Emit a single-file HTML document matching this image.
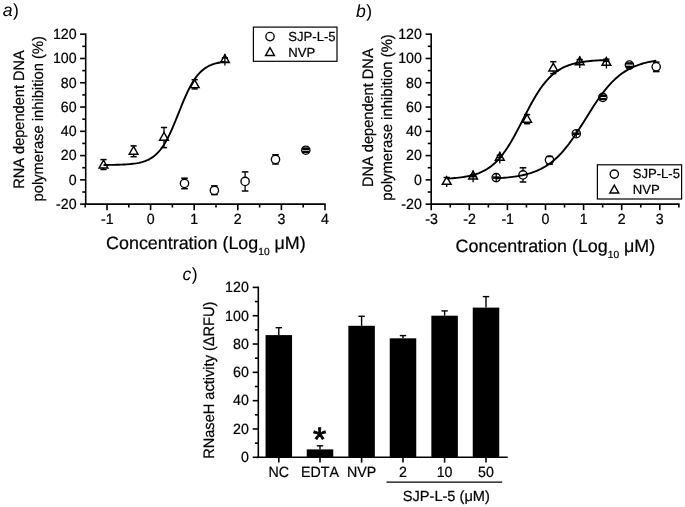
<!DOCTYPE html>
<html><head><meta charset="utf-8"><title>Figure</title>
<style>html,body{margin:0;padding:0;background:#fff}svg{display:block}text{font-family:"Liberation Sans",Arial,sans-serif;fill:#000;stroke:#000;stroke-width:0.22px;font-kerning:none;text-rendering:geometricPrecision}</style>
</head><body>
<svg width="685" height="507" viewBox="0 0 685 507">
<rect width="685" height="507" fill="#fff"/>
<line x1="85.70" y1="33.40" x2="85.70" y2="204.95" stroke="#000" stroke-width="1.6" stroke-linecap="butt"/>
<line x1="80.10" y1="204.15" x2="85.70" y2="204.15" stroke="#000" stroke-width="1.6" stroke-linecap="butt"/>
<text transform="translate(76.60,208.95) scale(0.96,1)" font-size="14.8" text-anchor="end">-20</text>
<line x1="80.10" y1="179.87" x2="85.70" y2="179.87" stroke="#000" stroke-width="1.6" stroke-linecap="butt"/>
<text transform="translate(76.60,184.67) scale(0.96,1)" font-size="14.8" text-anchor="end">0</text>
<line x1="80.10" y1="155.59" x2="85.70" y2="155.59" stroke="#000" stroke-width="1.6" stroke-linecap="butt"/>
<text transform="translate(76.60,160.39) scale(0.96,1)" font-size="14.8" text-anchor="end">20</text>
<line x1="80.10" y1="131.31" x2="85.70" y2="131.31" stroke="#000" stroke-width="1.6" stroke-linecap="butt"/>
<text transform="translate(76.60,136.11) scale(0.96,1)" font-size="14.8" text-anchor="end">40</text>
<line x1="80.10" y1="107.04" x2="85.70" y2="107.04" stroke="#000" stroke-width="1.6" stroke-linecap="butt"/>
<text transform="translate(76.60,111.84) scale(0.96,1)" font-size="14.8" text-anchor="end">60</text>
<line x1="80.10" y1="82.76" x2="85.70" y2="82.76" stroke="#000" stroke-width="1.6" stroke-linecap="butt"/>
<text transform="translate(76.60,87.56) scale(0.96,1)" font-size="14.8" text-anchor="end">80</text>
<line x1="80.10" y1="58.48" x2="85.70" y2="58.48" stroke="#000" stroke-width="1.6" stroke-linecap="butt"/>
<text transform="translate(76.60,63.28) scale(0.96,1)" font-size="14.8" text-anchor="end">100</text>
<line x1="80.10" y1="34.20" x2="85.70" y2="34.20" stroke="#000" stroke-width="1.6" stroke-linecap="butt"/>
<text transform="translate(76.60,39.00) scale(0.96,1)" font-size="14.8" text-anchor="end">120</text>
<line x1="82.30" y1="192.01" x2="85.70" y2="192.01" stroke="#000" stroke-width="1.6" stroke-linecap="butt"/>
<line x1="82.30" y1="167.73" x2="85.70" y2="167.73" stroke="#000" stroke-width="1.6" stroke-linecap="butt"/>
<line x1="82.30" y1="143.45" x2="85.70" y2="143.45" stroke="#000" stroke-width="1.6" stroke-linecap="butt"/>
<line x1="82.30" y1="119.18" x2="85.70" y2="119.18" stroke="#000" stroke-width="1.6" stroke-linecap="butt"/>
<line x1="82.30" y1="94.90" x2="85.70" y2="94.90" stroke="#000" stroke-width="1.6" stroke-linecap="butt"/>
<line x1="82.30" y1="70.62" x2="85.70" y2="70.62" stroke="#000" stroke-width="1.6" stroke-linecap="butt"/>
<line x1="82.30" y1="46.34" x2="85.70" y2="46.34" stroke="#000" stroke-width="1.6" stroke-linecap="butt"/>
<line x1="84.90" y1="204.15" x2="325.80" y2="204.15" stroke="#000" stroke-width="1.6" stroke-linecap="butt"/>
<line x1="107.00" y1="204.15" x2="107.00" y2="210.15" stroke="#000" stroke-width="1.6" stroke-linecap="butt"/>
<text transform="translate(107.30,223.90) scale(0.96,1)" font-size="14.8" text-anchor="middle">-1</text>
<line x1="150.60" y1="204.15" x2="150.60" y2="210.15" stroke="#000" stroke-width="1.6" stroke-linecap="butt"/>
<text transform="translate(150.60,223.90) scale(0.96,1)" font-size="14.8" text-anchor="middle">0</text>
<line x1="194.20" y1="204.15" x2="194.20" y2="210.15" stroke="#000" stroke-width="1.6" stroke-linecap="butt"/>
<text transform="translate(194.20,223.90) scale(0.96,1)" font-size="14.8" text-anchor="middle">1</text>
<line x1="237.80" y1="204.15" x2="237.80" y2="210.15" stroke="#000" stroke-width="1.6" stroke-linecap="butt"/>
<text transform="translate(237.80,223.90) scale(0.96,1)" font-size="14.8" text-anchor="middle">2</text>
<line x1="281.40" y1="204.15" x2="281.40" y2="210.15" stroke="#000" stroke-width="1.6" stroke-linecap="butt"/>
<text transform="translate(281.40,223.90) scale(0.96,1)" font-size="14.8" text-anchor="middle">3</text>
<line x1="325.00" y1="204.15" x2="325.00" y2="210.15" stroke="#000" stroke-width="1.6" stroke-linecap="butt"/>
<text transform="translate(325.00,223.90) scale(0.96,1)" font-size="14.8" text-anchor="middle">4</text>
<line x1="85.20" y1="204.15" x2="85.20" y2="207.55" stroke="#000" stroke-width="1.6" stroke-linecap="butt"/>
<line x1="128.80" y1="204.15" x2="128.80" y2="207.55" stroke="#000" stroke-width="1.6" stroke-linecap="butt"/>
<line x1="172.40" y1="204.15" x2="172.40" y2="207.55" stroke="#000" stroke-width="1.6" stroke-linecap="butt"/>
<line x1="216.00" y1="204.15" x2="216.00" y2="207.55" stroke="#000" stroke-width="1.6" stroke-linecap="butt"/>
<line x1="259.60" y1="204.15" x2="259.60" y2="207.55" stroke="#000" stroke-width="1.6" stroke-linecap="butt"/>
<line x1="303.20" y1="204.15" x2="303.20" y2="207.55" stroke="#000" stroke-width="1.6" stroke-linecap="butt"/>
<text x="0.00" y="0.00" font-size="15.2" text-anchor="middle" transform="translate(24.0,119.5) rotate(-90) scale(0.9605,1)">RNA dependent DNA</text>
<text x="0.00" y="0.00" font-size="15.2" text-anchor="middle" transform="translate(42.8,118.8) rotate(-90) scale(0.970,1)">polymerase inhibition (%)</text>
<text x="205.9" y="249.3" font-size="17.9" text-anchor="middle">Concentration (Log<tspan font-size="10.2" dy="6">10</tspan><tspan dy="-6"> μM)</tspan></text>
<text x="2.7" y="16.1" font-size="17.6" style="stroke-width:0"><tspan font-style="italic">a</tspan><tspan dx="0.6">)</tspan></text>
<line x1="103.50" y1="159.60" x2="103.50" y2="169.50" stroke="#000" stroke-width="1.3" stroke-linecap="butt"/>
<path d="M99.10,167.90 L107.90,167.90 L103.50,160.20 Z" fill="#fff" stroke="#000" stroke-width="1.45" stroke-linejoin="miter"/>
<line x1="100.40" y1="159.60" x2="106.60" y2="159.60" stroke="#000" stroke-width="1.5" stroke-linecap="butt"/>
<line x1="100.40" y1="169.50" x2="106.60" y2="169.50" stroke="#000" stroke-width="1.5" stroke-linecap="butt"/>
<line x1="133.60" y1="145.90" x2="133.60" y2="156.70" stroke="#000" stroke-width="1.3" stroke-linecap="butt"/>
<path d="M129.20,154.20 L138.00,154.20 L133.60,146.50 Z" fill="#fff" stroke="#000" stroke-width="1.45" stroke-linejoin="miter"/>
<line x1="130.50" y1="145.90" x2="136.70" y2="145.90" stroke="#000" stroke-width="1.5" stroke-linecap="butt"/>
<line x1="130.50" y1="156.70" x2="136.70" y2="156.70" stroke="#000" stroke-width="1.5" stroke-linecap="butt"/>
<line x1="164.00" y1="127.50" x2="164.00" y2="147.60" stroke="#000" stroke-width="1.3" stroke-linecap="butt"/>
<path d="M159.60,140.20 L168.40,140.20 L164.00,132.50 Z" fill="#fff" stroke="#000" stroke-width="1.45" stroke-linejoin="miter"/>
<line x1="160.90" y1="127.50" x2="167.10" y2="127.50" stroke="#000" stroke-width="1.5" stroke-linecap="butt"/>
<line x1="160.90" y1="147.60" x2="167.10" y2="147.60" stroke="#000" stroke-width="1.5" stroke-linecap="butt"/>
<line x1="194.70" y1="79.70" x2="194.70" y2="88.90" stroke="#000" stroke-width="1.3" stroke-linecap="butt"/>
<path d="M190.30,87.60 L199.10,87.60 L194.70,79.90 Z" fill="#fff" stroke="#000" stroke-width="1.45" stroke-linejoin="miter"/>
<line x1="191.60" y1="79.70" x2="197.80" y2="79.70" stroke="#000" stroke-width="1.5" stroke-linecap="butt"/>
<line x1="191.60" y1="88.90" x2="197.80" y2="88.90" stroke="#000" stroke-width="1.5" stroke-linecap="butt"/>
<line x1="224.90" y1="57.80" x2="224.90" y2="62.30" stroke="#000" stroke-width="1.3" stroke-linecap="butt"/>
<path d="M220.50,62.40 L229.30,62.40 L224.90,54.70 Z" fill="#fff" stroke="#000" stroke-width="1.45" stroke-linejoin="miter"/>
<line x1="221.80" y1="57.80" x2="228.00" y2="57.80" stroke="#000" stroke-width="1.5" stroke-linecap="butt"/>
<line x1="221.80" y1="62.30" x2="228.00" y2="62.30" stroke="#000" stroke-width="1.5" stroke-linecap="butt"/>
<line x1="224.90" y1="53.90" x2="224.90" y2="65.60" stroke="#000" stroke-width="1.3" stroke-linecap="butt"/>
<line x1="184.50" y1="178.20" x2="184.50" y2="188.70" stroke="#000" stroke-width="1.3" stroke-linecap="butt"/>
<circle cx="184.50" cy="183.40" r="4.15" fill="#fff" stroke="#000" stroke-width="1.35"/>
<line x1="181.20" y1="178.20" x2="187.80" y2="178.20" stroke="#000" stroke-width="1.5" stroke-linecap="butt"/>
<line x1="181.20" y1="188.70" x2="187.80" y2="188.70" stroke="#000" stroke-width="1.5" stroke-linecap="butt"/>
<line x1="214.40" y1="185.90" x2="214.40" y2="194.60" stroke="#000" stroke-width="1.3" stroke-linecap="butt"/>
<circle cx="214.40" cy="190.40" r="4.15" fill="#fff" stroke="#000" stroke-width="1.35"/>
<line x1="211.10" y1="185.90" x2="217.70" y2="185.90" stroke="#000" stroke-width="1.5" stroke-linecap="butt"/>
<line x1="211.10" y1="194.60" x2="217.70" y2="194.60" stroke="#000" stroke-width="1.5" stroke-linecap="butt"/>
<line x1="245.10" y1="171.90" x2="245.10" y2="191.00" stroke="#000" stroke-width="1.3" stroke-linecap="butt"/>
<circle cx="245.10" cy="181.40" r="4.15" fill="#fff" stroke="#000" stroke-width="1.35"/>
<line x1="241.80" y1="171.90" x2="248.40" y2="171.90" stroke="#000" stroke-width="1.5" stroke-linecap="butt"/>
<line x1="241.80" y1="191.00" x2="248.40" y2="191.00" stroke="#000" stroke-width="1.5" stroke-linecap="butt"/>
<line x1="275.50" y1="154.80" x2="275.50" y2="164.00" stroke="#000" stroke-width="1.3" stroke-linecap="butt"/>
<circle cx="275.50" cy="159.40" r="4.15" fill="#fff" stroke="#000" stroke-width="1.35"/>
<line x1="272.20" y1="154.80" x2="278.80" y2="154.80" stroke="#000" stroke-width="1.5" stroke-linecap="butt"/>
<line x1="272.20" y1="164.00" x2="278.80" y2="164.00" stroke="#000" stroke-width="1.5" stroke-linecap="butt"/>
<line x1="305.80" y1="149.20" x2="305.80" y2="151.50" stroke="#000" stroke-width="1.3" stroke-linecap="butt"/>
<circle cx="305.80" cy="150.20" r="4.15" fill="#fff" stroke="#000" stroke-width="1.35"/>
<line x1="302.50" y1="149.20" x2="309.10" y2="149.20" stroke="#000" stroke-width="1.5" stroke-linecap="butt"/>
<line x1="302.50" y1="151.50" x2="309.10" y2="151.50" stroke="#000" stroke-width="1.5" stroke-linecap="butt"/>
<line x1="302.50" y1="148.50" x2="309.10" y2="148.50" stroke="#000" stroke-width="2.3" stroke-linecap="butt"/>
<line x1="302.50" y1="152.00" x2="309.10" y2="152.00" stroke="#000" stroke-width="2.3" stroke-linecap="butt"/>
<polyline points="103.50,164.98 105.04,164.97 106.57,164.95 108.11,164.94 109.65,164.92 111.18,164.89 112.72,164.87 114.26,164.84 115.79,164.81 117.33,164.77 118.87,164.72 120.40,164.67 121.94,164.61 123.48,164.54 125.01,164.45 126.55,164.36 128.09,164.25 129.62,164.12 131.16,163.98 132.70,163.81 134.23,163.61 135.77,163.39 137.31,163.13 138.84,162.83 140.38,162.48 141.92,162.08 143.45,161.63 144.99,161.10 146.53,160.50 148.06,159.82 149.60,159.03 151.14,158.14 152.67,157.12 154.21,155.97 155.75,154.67 157.28,153.21 158.82,151.57 160.36,149.74 161.89,147.71 163.43,145.47 164.97,143.01 166.51,140.34 168.04,137.45 169.58,134.35 171.12,131.05 172.65,127.59 174.19,123.97 175.73,120.24 177.26,116.43 178.80,112.58 180.34,108.74 181.87,104.93 183.41,101.21 184.95,97.61 186.48,94.16 188.02,90.89 189.56,87.81 191.09,84.94 192.63,82.29 194.17,79.86 195.70,77.64 197.24,75.63 198.78,73.82 200.31,72.20 201.85,70.76 203.39,69.47 204.92,68.34 206.46,67.33 208.00,66.45 209.53,65.68 211.07,65.00 212.61,64.41 214.14,63.89 215.68,63.44 217.22,63.05 218.75,62.71 220.29,62.42 221.83,62.16 223.36,61.94 224.90,61.75" fill="none" stroke="#000" stroke-width="1.9" stroke-linejoin="round"/>
<rect x="253.4" y="27.1" width="83.6" height="34.2" fill="#fff" stroke="#000" stroke-width="1.2"/>
<circle cx="270.00" cy="36.60" r="4.15" fill="#fff" stroke="#000" stroke-width="1.35"/>
<path d="M265.60,55.40 L274.40,55.40 L270.00,47.70 Z" fill="#fff" stroke="#000" stroke-width="1.45" stroke-linejoin="miter"/>
<text x="288.30" y="40.80" font-size="13.1" text-anchor="start" >SJP-L-5</text>
<text x="288.30" y="56.80" font-size="13.1" text-anchor="start" >NVP</text>
<line x1="431.20" y1="33.40" x2="431.20" y2="204.95" stroke="#000" stroke-width="1.6" stroke-linecap="butt"/>
<line x1="425.60" y1="204.15" x2="431.20" y2="204.15" stroke="#000" stroke-width="1.6" stroke-linecap="butt"/>
<text transform="translate(421.90,208.95) scale(0.96,1)" font-size="14.8" text-anchor="end">-20</text>
<line x1="425.60" y1="179.87" x2="431.20" y2="179.87" stroke="#000" stroke-width="1.6" stroke-linecap="butt"/>
<text transform="translate(421.90,184.67) scale(0.96,1)" font-size="14.8" text-anchor="end">0</text>
<line x1="425.60" y1="155.59" x2="431.20" y2="155.59" stroke="#000" stroke-width="1.6" stroke-linecap="butt"/>
<text transform="translate(421.90,160.39) scale(0.96,1)" font-size="14.8" text-anchor="end">20</text>
<line x1="425.60" y1="131.31" x2="431.20" y2="131.31" stroke="#000" stroke-width="1.6" stroke-linecap="butt"/>
<text transform="translate(421.90,136.11) scale(0.96,1)" font-size="14.8" text-anchor="end">40</text>
<line x1="425.60" y1="107.04" x2="431.20" y2="107.04" stroke="#000" stroke-width="1.6" stroke-linecap="butt"/>
<text transform="translate(421.90,111.84) scale(0.96,1)" font-size="14.8" text-anchor="end">60</text>
<line x1="425.60" y1="82.76" x2="431.20" y2="82.76" stroke="#000" stroke-width="1.6" stroke-linecap="butt"/>
<text transform="translate(421.90,87.56) scale(0.96,1)" font-size="14.8" text-anchor="end">80</text>
<line x1="425.60" y1="58.48" x2="431.20" y2="58.48" stroke="#000" stroke-width="1.6" stroke-linecap="butt"/>
<text transform="translate(421.90,63.28) scale(0.96,1)" font-size="14.8" text-anchor="end">100</text>
<line x1="425.60" y1="34.20" x2="431.20" y2="34.20" stroke="#000" stroke-width="1.6" stroke-linecap="butt"/>
<text transform="translate(421.90,39.00) scale(0.96,1)" font-size="14.8" text-anchor="end">120</text>
<line x1="427.80" y1="192.01" x2="431.20" y2="192.01" stroke="#000" stroke-width="1.6" stroke-linecap="butt"/>
<line x1="427.80" y1="167.73" x2="431.20" y2="167.73" stroke="#000" stroke-width="1.6" stroke-linecap="butt"/>
<line x1="427.80" y1="143.45" x2="431.20" y2="143.45" stroke="#000" stroke-width="1.6" stroke-linecap="butt"/>
<line x1="427.80" y1="119.18" x2="431.20" y2="119.18" stroke="#000" stroke-width="1.6" stroke-linecap="butt"/>
<line x1="427.80" y1="94.90" x2="431.20" y2="94.90" stroke="#000" stroke-width="1.6" stroke-linecap="butt"/>
<line x1="427.80" y1="70.62" x2="431.20" y2="70.62" stroke="#000" stroke-width="1.6" stroke-linecap="butt"/>
<line x1="427.80" y1="46.34" x2="431.20" y2="46.34" stroke="#000" stroke-width="1.6" stroke-linecap="butt"/>
<line x1="430.40" y1="204.15" x2="679.65" y2="204.15" stroke="#000" stroke-width="1.6" stroke-linecap="butt"/>
<line x1="431.20" y1="204.15" x2="431.20" y2="210.15" stroke="#000" stroke-width="1.6" stroke-linecap="butt"/>
<text transform="translate(431.50,223.90) scale(0.96,1)" font-size="14.8" text-anchor="middle">-3</text>
<line x1="469.30" y1="204.15" x2="469.30" y2="210.15" stroke="#000" stroke-width="1.6" stroke-linecap="butt"/>
<text transform="translate(469.60,223.90) scale(0.96,1)" font-size="14.8" text-anchor="middle">-2</text>
<line x1="507.40" y1="204.15" x2="507.40" y2="210.15" stroke="#000" stroke-width="1.6" stroke-linecap="butt"/>
<text transform="translate(507.70,223.90) scale(0.96,1)" font-size="14.8" text-anchor="middle">-1</text>
<line x1="545.50" y1="204.15" x2="545.50" y2="210.15" stroke="#000" stroke-width="1.6" stroke-linecap="butt"/>
<text transform="translate(545.50,223.90) scale(0.96,1)" font-size="14.8" text-anchor="middle">0</text>
<line x1="583.60" y1="204.15" x2="583.60" y2="210.15" stroke="#000" stroke-width="1.6" stroke-linecap="butt"/>
<text transform="translate(583.60,223.90) scale(0.96,1)" font-size="14.8" text-anchor="middle">1</text>
<line x1="621.70" y1="204.15" x2="621.70" y2="210.15" stroke="#000" stroke-width="1.6" stroke-linecap="butt"/>
<text transform="translate(621.70,223.90) scale(0.96,1)" font-size="14.8" text-anchor="middle">2</text>
<line x1="659.80" y1="204.15" x2="659.80" y2="210.15" stroke="#000" stroke-width="1.6" stroke-linecap="butt"/>
<text transform="translate(659.80,223.90) scale(0.96,1)" font-size="14.8" text-anchor="middle">3</text>
<line x1="450.25" y1="204.15" x2="450.25" y2="207.55" stroke="#000" stroke-width="1.6" stroke-linecap="butt"/>
<line x1="488.35" y1="204.15" x2="488.35" y2="207.55" stroke="#000" stroke-width="1.6" stroke-linecap="butt"/>
<line x1="526.45" y1="204.15" x2="526.45" y2="207.55" stroke="#000" stroke-width="1.6" stroke-linecap="butt"/>
<line x1="564.55" y1="204.15" x2="564.55" y2="207.55" stroke="#000" stroke-width="1.6" stroke-linecap="butt"/>
<line x1="602.65" y1="204.15" x2="602.65" y2="207.55" stroke="#000" stroke-width="1.6" stroke-linecap="butt"/>
<line x1="640.75" y1="204.15" x2="640.75" y2="207.55" stroke="#000" stroke-width="1.6" stroke-linecap="butt"/>
<line x1="678.85" y1="204.15" x2="678.85" y2="207.55" stroke="#000" stroke-width="1.6" stroke-linecap="butt"/>
<text x="0.00" y="0.00" font-size="15.2" text-anchor="middle" transform="translate(372.6,117.7) rotate(-90) scale(0.9605,1)">DNA dependent DNA</text>
<text x="0.00" y="0.00" font-size="15.2" text-anchor="middle" transform="translate(392.2,117.45) rotate(-90) scale(0.9765,1)">polymerase inhibition (%)</text>
<text x="555.4" y="252.4" font-size="17.9" text-anchor="middle">Concentration (Log<tspan font-size="10.2" dy="6">10</tspan><tspan dy="-6"> μM)</tspan></text>
<text x="356.1" y="17.3" font-size="17.6" style="stroke-width:0"><tspan font-style="italic">b</tspan><tspan dx="0.4">)</tspan></text>
<line x1="446.70" y1="177.50" x2="446.70" y2="187.10" stroke="#000" stroke-width="1.3" stroke-linecap="butt"/>
<path d="M442.30,184.30 L451.10,184.30 L446.70,176.60 Z" fill="#fff" stroke="#000" stroke-width="1.45" stroke-linejoin="miter"/>
<line x1="443.60" y1="177.50" x2="449.80" y2="177.50" stroke="#000" stroke-width="1.5" stroke-linecap="butt"/>
<line x1="473.10" y1="175.30" x2="473.10" y2="176.60" stroke="#000" stroke-width="1.3" stroke-linecap="butt"/>
<path d="M468.70,179.00 L477.50,179.00 L473.10,171.30 Z" fill="#fff" stroke="#000" stroke-width="1.45" stroke-linejoin="miter"/>
<line x1="470.00" y1="175.30" x2="476.20" y2="175.30" stroke="#000" stroke-width="1.5" stroke-linecap="butt"/>
<line x1="470.00" y1="176.60" x2="476.20" y2="176.60" stroke="#000" stroke-width="1.5" stroke-linecap="butt"/>
<line x1="473.10" y1="170.50" x2="473.10" y2="182.20" stroke="#000" stroke-width="1.3" stroke-linecap="butt"/>
<line x1="499.80" y1="155.20" x2="499.80" y2="157.40" stroke="#000" stroke-width="1.3" stroke-linecap="butt"/>
<path d="M495.40,160.20 L504.20,160.20 L499.80,152.50 Z" fill="#fff" stroke="#000" stroke-width="1.45" stroke-linejoin="miter"/>
<line x1="496.70" y1="155.20" x2="502.90" y2="155.20" stroke="#000" stroke-width="1.5" stroke-linecap="butt"/>
<line x1="496.70" y1="157.40" x2="502.90" y2="157.40" stroke="#000" stroke-width="1.5" stroke-linecap="butt"/>
<line x1="499.80" y1="151.70" x2="499.80" y2="163.40" stroke="#000" stroke-width="1.3" stroke-linecap="butt"/>
<line x1="527.10" y1="114.60" x2="527.10" y2="123.70" stroke="#000" stroke-width="1.3" stroke-linecap="butt"/>
<path d="M522.70,122.20 L531.50,122.20 L527.10,114.50 Z" fill="#fff" stroke="#000" stroke-width="1.45" stroke-linejoin="miter"/>
<line x1="524.00" y1="114.60" x2="530.20" y2="114.60" stroke="#000" stroke-width="1.5" stroke-linecap="butt"/>
<line x1="524.00" y1="123.70" x2="530.20" y2="123.70" stroke="#000" stroke-width="1.5" stroke-linecap="butt"/>
<line x1="553.30" y1="61.70" x2="553.30" y2="73.60" stroke="#000" stroke-width="1.3" stroke-linecap="butt"/>
<path d="M548.90,71.00 L557.70,71.00 L553.30,63.30 Z" fill="#fff" stroke="#000" stroke-width="1.45" stroke-linejoin="miter"/>
<line x1="550.20" y1="61.70" x2="556.40" y2="61.70" stroke="#000" stroke-width="1.5" stroke-linecap="butt"/>
<line x1="550.20" y1="73.60" x2="556.40" y2="73.60" stroke="#000" stroke-width="1.5" stroke-linecap="butt"/>
<line x1="579.70" y1="59.60" x2="579.70" y2="62.50" stroke="#000" stroke-width="1.3" stroke-linecap="butt"/>
<path d="M575.30,64.70 L584.10,64.70 L579.70,57.00 Z" fill="#fff" stroke="#000" stroke-width="1.45" stroke-linejoin="miter"/>
<line x1="576.60" y1="59.60" x2="582.80" y2="59.60" stroke="#000" stroke-width="1.5" stroke-linecap="butt"/>
<line x1="576.60" y1="62.50" x2="582.80" y2="62.50" stroke="#000" stroke-width="1.5" stroke-linecap="butt"/>
<line x1="579.70" y1="56.20" x2="579.70" y2="67.90" stroke="#000" stroke-width="1.3" stroke-linecap="butt"/>
<line x1="606.40" y1="59.20" x2="606.40" y2="61.20" stroke="#000" stroke-width="1.3" stroke-linecap="butt"/>
<path d="M602.00,65.30 L610.80,65.30 L606.40,57.60 Z" fill="#fff" stroke="#000" stroke-width="1.45" stroke-linejoin="miter"/>
<line x1="603.30" y1="59.20" x2="609.50" y2="59.20" stroke="#000" stroke-width="1.5" stroke-linecap="butt"/>
<line x1="603.30" y1="61.20" x2="609.50" y2="61.20" stroke="#000" stroke-width="1.5" stroke-linecap="butt"/>
<line x1="606.40" y1="56.80" x2="606.40" y2="68.50" stroke="#000" stroke-width="1.3" stroke-linecap="butt"/>
<line x1="496.20" y1="177.10" x2="496.20" y2="178.10" stroke="#000" stroke-width="1.3" stroke-linecap="butt"/>
<circle cx="496.20" cy="177.60" r="4.15" fill="#fff" stroke="#000" stroke-width="1.35"/>
<line x1="492.90" y1="177.10" x2="499.50" y2="177.10" stroke="#000" stroke-width="1.5" stroke-linecap="butt"/>
<line x1="492.90" y1="178.10" x2="499.50" y2="178.10" stroke="#000" stroke-width="1.5" stroke-linecap="butt"/>
<line x1="496.20" y1="174.00" x2="496.20" y2="181.20" stroke="#000" stroke-width="1.3" stroke-linecap="butt"/>
<line x1="523.00" y1="167.80" x2="523.00" y2="182.00" stroke="#000" stroke-width="1.3" stroke-linecap="butt"/>
<circle cx="523.00" cy="174.90" r="4.15" fill="#fff" stroke="#000" stroke-width="1.35"/>
<line x1="519.70" y1="167.80" x2="526.30" y2="167.80" stroke="#000" stroke-width="1.5" stroke-linecap="butt"/>
<line x1="519.70" y1="182.00" x2="526.30" y2="182.00" stroke="#000" stroke-width="1.5" stroke-linecap="butt"/>
<line x1="549.50" y1="156.50" x2="549.50" y2="164.30" stroke="#000" stroke-width="1.3" stroke-linecap="butt"/>
<circle cx="549.50" cy="160.00" r="4.15" fill="#fff" stroke="#000" stroke-width="1.35"/>
<line x1="546.20" y1="156.50" x2="552.80" y2="156.50" stroke="#000" stroke-width="1.5" stroke-linecap="butt"/>
<line x1="546.20" y1="164.30" x2="552.80" y2="164.30" stroke="#000" stroke-width="1.5" stroke-linecap="butt"/>
<line x1="576.30" y1="133.20" x2="576.30" y2="134.20" stroke="#000" stroke-width="1.3" stroke-linecap="butt"/>
<circle cx="576.30" cy="133.70" r="4.15" fill="#fff" stroke="#000" stroke-width="1.35"/>
<line x1="573.00" y1="133.20" x2="579.60" y2="133.20" stroke="#000" stroke-width="1.5" stroke-linecap="butt"/>
<line x1="573.00" y1="134.20" x2="579.60" y2="134.20" stroke="#000" stroke-width="1.5" stroke-linecap="butt"/>
<line x1="576.30" y1="130.10" x2="576.30" y2="137.30" stroke="#000" stroke-width="1.3" stroke-linecap="butt"/>
<line x1="602.80" y1="96.20" x2="602.80" y2="98.60" stroke="#000" stroke-width="1.3" stroke-linecap="butt"/>
<circle cx="602.80" cy="97.40" r="4.15" fill="#fff" stroke="#000" stroke-width="1.35"/>
<line x1="599.50" y1="96.20" x2="606.10" y2="96.20" stroke="#000" stroke-width="1.5" stroke-linecap="butt"/>
<line x1="599.50" y1="98.60" x2="606.10" y2="98.60" stroke="#000" stroke-width="1.5" stroke-linecap="butt"/>
<line x1="629.40" y1="63.60" x2="629.40" y2="66.60" stroke="#000" stroke-width="1.3" stroke-linecap="butt"/>
<circle cx="629.40" cy="65.10" r="4.15" fill="#fff" stroke="#000" stroke-width="1.35"/>
<line x1="626.10" y1="63.60" x2="632.70" y2="63.60" stroke="#000" stroke-width="1.5" stroke-linecap="butt"/>
<line x1="626.10" y1="66.60" x2="632.70" y2="66.60" stroke="#000" stroke-width="1.5" stroke-linecap="butt"/>
<line x1="656.20" y1="62.10" x2="656.20" y2="71.60" stroke="#000" stroke-width="1.3" stroke-linecap="butt"/>
<circle cx="656.20" cy="66.80" r="4.15" fill="#fff" stroke="#000" stroke-width="1.35"/>
<line x1="652.90" y1="62.10" x2="659.50" y2="62.10" stroke="#000" stroke-width="1.5" stroke-linecap="butt"/>
<line x1="652.90" y1="71.60" x2="659.50" y2="71.60" stroke="#000" stroke-width="1.5" stroke-linecap="butt"/>
<line x1="599.50" y1="95.60" x2="606.10" y2="95.60" stroke="#000" stroke-width="2.2" stroke-linecap="butt"/>
<line x1="599.50" y1="99.20" x2="606.10" y2="99.20" stroke="#000" stroke-width="2.2" stroke-linecap="butt"/>
<line x1="626.10" y1="63.30" x2="632.70" y2="63.30" stroke="#000" stroke-width="2.2" stroke-linecap="butt"/>
<line x1="626.10" y1="66.90" x2="632.70" y2="66.90" stroke="#000" stroke-width="2.2" stroke-linecap="butt"/>
<polyline points="446.70,178.57 448.72,178.45 450.74,178.33 452.76,178.18 454.79,178.01 456.81,177.83 458.83,177.61 460.85,177.37 462.87,177.09 464.89,176.77 466.92,176.41 468.94,176.01 470.96,175.55 472.98,175.03 475.00,174.44 477.02,173.77 479.04,173.02 481.07,172.17 483.09,171.22 485.11,170.16 487.13,168.97 489.15,167.64 491.17,166.16 493.19,164.52 495.22,162.71 497.24,160.71 499.26,158.53 501.28,156.15 503.30,153.56 505.32,150.78 507.35,147.80 509.37,144.62 511.39,141.26 513.41,137.74 515.43,134.07 517.45,130.28 519.47,126.39 521.50,122.45 523.52,118.48 525.54,114.52 527.56,110.61 529.58,106.77 531.60,103.03 533.63,99.43 535.65,95.99 537.67,92.72 539.69,89.63 541.71,86.75 543.73,84.06 545.75,81.58 547.78,79.29 549.80,77.20 551.82,75.30 553.84,73.58 555.86,72.02 557.88,70.61 559.91,69.35 561.93,68.22 563.95,67.22 565.97,66.32 567.99,65.52 570.01,64.81 572.03,64.18 574.06,63.63 576.08,63.14 578.10,62.71 580.12,62.32 582.14,61.99 584.16,61.69 586.18,61.43 588.21,61.20 590.23,61.00 592.25,60.82 594.27,60.66 596.29,60.53 598.31,60.41 600.34,60.30 602.36,60.21 604.38,60.13 606.40,60.06" fill="none" stroke="#000" stroke-width="1.9" stroke-linejoin="round"/>
<polyline points="496.20,178.33 498.23,178.21 500.25,178.07 502.28,177.92 504.31,177.76 506.33,177.58 508.36,177.38 510.39,177.15 512.41,176.90 514.44,176.63 516.47,176.32 518.49,175.99 520.52,175.61 522.55,175.20 524.57,174.74 526.60,174.24 528.63,173.69 530.65,173.08 532.68,172.40 534.71,171.67 536.73,170.85 538.76,169.97 540.78,168.99 542.81,167.93 544.84,166.77 546.86,165.51 548.89,164.14 550.92,162.66 552.94,161.05 554.97,159.32 557.00,157.47 559.02,155.48 561.05,153.36 563.08,151.11 565.10,148.72 567.13,146.21 569.16,143.57 571.18,140.81 573.21,137.94 575.24,134.98 577.26,131.92 579.29,128.80 581.32,125.62 583.34,122.40 585.37,119.15 587.40,115.91 589.42,112.68 591.45,109.48 593.48,106.33 595.50,103.26 597.53,100.26 599.56,97.36 601.58,94.56 603.61,91.88 605.64,89.32 607.66,86.90 609.69,84.60 611.72,82.43 613.74,80.40 615.77,78.50 617.79,76.74 619.82,75.09 621.85,73.57 623.87,72.16 625.90,70.86 627.93,69.67 629.95,68.58 631.98,67.57 634.01,66.66 636.03,65.82 638.06,65.06 640.09,64.37 642.11,63.74 644.14,63.16 646.17,62.64 648.19,62.17 650.22,61.75 652.25,61.36 654.27,61.01 656.30,60.70" fill="none" stroke="#000" stroke-width="1.9" stroke-linejoin="round"/>
<rect x="597.4" y="164.8" width="84.2" height="34.2" fill="#fff" stroke="#000" stroke-width="1.2"/>
<circle cx="614.30" cy="174.10" r="4.15" fill="#fff" stroke="#000" stroke-width="1.35"/>
<path d="M609.90,192.90 L618.70,192.90 L614.30,185.20 Z" fill="#fff" stroke="#000" stroke-width="1.45" stroke-linejoin="miter"/>
<text x="632.70" y="178.00" font-size="13.1" text-anchor="start" >SJP-L-5</text>
<text x="632.70" y="194.00" font-size="13.1" text-anchor="start" >NVP</text>
<line x1="258.30" y1="286.60" x2="258.30" y2="458.10" stroke="#000" stroke-width="1.6" stroke-linecap="butt"/>
<line x1="252.70" y1="457.30" x2="258.30" y2="457.30" stroke="#000" stroke-width="1.6" stroke-linecap="butt"/>
<text transform="translate(248.80,462.10) scale(0.96,1)" font-size="14.8" text-anchor="end">0</text>
<line x1="252.70" y1="428.98" x2="258.30" y2="428.98" stroke="#000" stroke-width="1.6" stroke-linecap="butt"/>
<text transform="translate(248.80,433.78) scale(0.96,1)" font-size="14.8" text-anchor="end">20</text>
<line x1="252.70" y1="400.67" x2="258.30" y2="400.67" stroke="#000" stroke-width="1.6" stroke-linecap="butt"/>
<text transform="translate(248.80,405.47) scale(0.96,1)" font-size="14.8" text-anchor="end">40</text>
<line x1="252.70" y1="372.35" x2="258.30" y2="372.35" stroke="#000" stroke-width="1.6" stroke-linecap="butt"/>
<text transform="translate(248.80,377.15) scale(0.96,1)" font-size="14.8" text-anchor="end">60</text>
<line x1="252.70" y1="344.04" x2="258.30" y2="344.04" stroke="#000" stroke-width="1.6" stroke-linecap="butt"/>
<text transform="translate(248.80,348.84) scale(0.96,1)" font-size="14.8" text-anchor="end">80</text>
<line x1="252.70" y1="315.72" x2="258.30" y2="315.72" stroke="#000" stroke-width="1.6" stroke-linecap="butt"/>
<text transform="translate(248.80,320.52) scale(0.96,1)" font-size="14.8" text-anchor="end">100</text>
<line x1="252.70" y1="287.40" x2="258.30" y2="287.40" stroke="#000" stroke-width="1.6" stroke-linecap="butt"/>
<text transform="translate(248.80,292.20) scale(0.96,1)" font-size="14.8" text-anchor="end">120</text>
<line x1="254.90" y1="443.14" x2="258.30" y2="443.14" stroke="#000" stroke-width="1.6" stroke-linecap="butt"/>
<line x1="254.90" y1="414.83" x2="258.30" y2="414.83" stroke="#000" stroke-width="1.6" stroke-linecap="butt"/>
<line x1="254.90" y1="386.51" x2="258.30" y2="386.51" stroke="#000" stroke-width="1.6" stroke-linecap="butt"/>
<line x1="254.90" y1="358.19" x2="258.30" y2="358.19" stroke="#000" stroke-width="1.6" stroke-linecap="butt"/>
<line x1="254.90" y1="329.88" x2="258.30" y2="329.88" stroke="#000" stroke-width="1.6" stroke-linecap="butt"/>
<line x1="254.90" y1="301.56" x2="258.30" y2="301.56" stroke="#000" stroke-width="1.6" stroke-linecap="butt"/>
<line x1="257.50" y1="457.30" x2="507.70" y2="457.30" stroke="#000" stroke-width="1.6" stroke-linecap="butt"/>
<rect x="265.55" y="335.10" width="26.5" height="122.20" fill="#000"/>
<line x1="278.80" y1="327.70" x2="278.80" y2="335.10" stroke="#000" stroke-width="1.4" stroke-linecap="butt"/>
<line x1="275.60" y1="327.70" x2="282.00" y2="327.70" stroke="#000" stroke-width="1.4" stroke-linecap="butt"/>
<line x1="278.80" y1="457.30" x2="278.80" y2="462.60" stroke="#000" stroke-width="1.6" stroke-linecap="butt"/>
<text transform="translate(278.80,477.40) scale(0.96,1)" font-size="14.8" text-anchor="middle">NC</text>
<rect x="306.75" y="449.40" width="26.5" height="7.90" fill="#000"/>
<line x1="320.00" y1="445.80" x2="320.00" y2="449.40" stroke="#000" stroke-width="1.4" stroke-linecap="butt"/>
<line x1="316.80" y1="445.80" x2="323.20" y2="445.80" stroke="#000" stroke-width="1.4" stroke-linecap="butt"/>
<line x1="320.00" y1="457.30" x2="320.00" y2="462.60" stroke="#000" stroke-width="1.6" stroke-linecap="butt"/>
<text transform="translate(320.00,477.40) scale(0.96,1)" font-size="14.8" text-anchor="middle">EDTA</text>
<rect x="348.35" y="325.80" width="26.5" height="131.50" fill="#000"/>
<line x1="361.60" y1="316.30" x2="361.60" y2="325.80" stroke="#000" stroke-width="1.4" stroke-linecap="butt"/>
<line x1="358.40" y1="316.30" x2="364.80" y2="316.30" stroke="#000" stroke-width="1.4" stroke-linecap="butt"/>
<line x1="361.60" y1="457.30" x2="361.60" y2="462.60" stroke="#000" stroke-width="1.6" stroke-linecap="butt"/>
<text transform="translate(361.60,477.40) scale(0.96,1)" font-size="14.8" text-anchor="middle">NVP</text>
<rect x="389.75" y="338.30" width="26.5" height="119.00" fill="#000"/>
<line x1="403.00" y1="335.60" x2="403.00" y2="338.30" stroke="#000" stroke-width="1.4" stroke-linecap="butt"/>
<line x1="399.80" y1="335.60" x2="406.20" y2="335.60" stroke="#000" stroke-width="1.4" stroke-linecap="butt"/>
<line x1="403.00" y1="457.30" x2="403.00" y2="462.60" stroke="#000" stroke-width="1.6" stroke-linecap="butt"/>
<text transform="translate(403.00,477.40) scale(0.96,1)" font-size="14.8" text-anchor="middle">2</text>
<rect x="431.35" y="315.70" width="26.5" height="141.60" fill="#000"/>
<line x1="444.60" y1="310.90" x2="444.60" y2="315.70" stroke="#000" stroke-width="1.4" stroke-linecap="butt"/>
<line x1="441.40" y1="310.90" x2="447.80" y2="310.90" stroke="#000" stroke-width="1.4" stroke-linecap="butt"/>
<line x1="444.60" y1="457.30" x2="444.60" y2="462.60" stroke="#000" stroke-width="1.6" stroke-linecap="butt"/>
<text transform="translate(444.60,477.40) scale(0.96,1)" font-size="14.8" text-anchor="middle">10</text>
<rect x="472.75" y="307.60" width="26.5" height="149.70" fill="#000"/>
<line x1="486.00" y1="296.60" x2="486.00" y2="307.60" stroke="#000" stroke-width="1.4" stroke-linecap="butt"/>
<line x1="482.80" y1="296.60" x2="489.20" y2="296.60" stroke="#000" stroke-width="1.4" stroke-linecap="butt"/>
<line x1="486.00" y1="457.30" x2="486.00" y2="462.60" stroke="#000" stroke-width="1.6" stroke-linecap="butt"/>
<text transform="translate(486.00,477.40) scale(0.96,1)" font-size="14.8" text-anchor="middle">50</text>
<text x="313" y="450.9" font-size="34" style="stroke-width:0.8px">*</text>
<line x1="386.50" y1="482.10" x2="502.20" y2="482.10" stroke="#000" stroke-width="1.4" stroke-linecap="butt"/>
<text x="446.30" y="500.50" font-size="14.6" text-anchor="middle" >SJP-L-5 (μM)</text>
<text x="0.00" y="0.00" font-size="15.2" text-anchor="middle" transform="translate(214.4,380.2) rotate(-90) scale(0.9605,1)">RNaseH activity (ΔRFU)</text>
<text x="182.4" y="280.1" font-size="17.6" style="stroke-width:0"><tspan font-style="italic">c</tspan><tspan dx="0.6">)</tspan></text>
</svg>
</body></html>
